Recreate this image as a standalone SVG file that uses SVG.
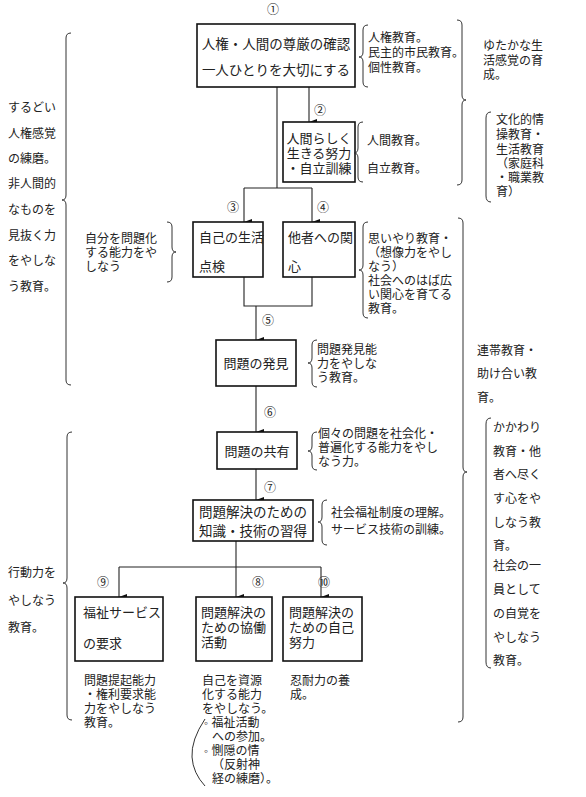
<svg xmlns="http://www.w3.org/2000/svg" width="586" height="797" viewBox="0 0 586 797">
<defs>
<marker id="ah" markerWidth="6" markerHeight="8" refX="3" refY="8" orient="auto-start-reverse" markerUnits="userSpaceOnUse" viewBox="0 0 6 8">
<path d="M0,0 L6,0 L3,8 Z" fill="#111"/>
</marker>
</defs>
<style>
text{font-family:"Liberation Sans","Noto Sans CJK JP","Noto Sans CJK SC",sans-serif;fill:#222;font-size:12px}
.box{fill:#fff;stroke:#111;stroke-width:1.6}
.bt{font-size:13px}
.bl{font-size:13.5px}
.num{font-size:12px;text-anchor:middle}
.ln{fill:none;stroke:#222;stroke-width:1.1}
.ar{fill:none;stroke:#222;stroke-width:1.1;marker-end:url(#ah)}
.br{fill:none;stroke:#333;stroke-width:1}
.mid{text-anchor:middle}
</style>
<rect width="586" height="797" fill="#fff"/>

<g id="connectors">
<path class="ln" d="M277,87 V188"/>
<path class="ar" d="M309,87 V122"/>
<path class="ln" d="M244,188 H312"/>
<path class="ar" d="M244,188 V222"/>
<path class="ar" d="M312,188 V222"/>
<path class="ln" d="M244,277 V306 H312 V277"/>
<path class="ar" d="M256,306 V340"/>
<path class="ar" d="M256,386 V432"/>
<path class="ar" d="M256,469 V500"/>
<path class="ar" d="M236,541 V597"/>
<path class="ln" d="M119,567 H321"/>
<path class="ar" d="M119,567 V597"/>
<path class="ar" d="M321,567 V597"/>
</g>

<g id="n1">
<text class="num" x="273" y="14">①</text>
<rect class="box" x="197" y="24" width="158" height="63"/>
<text class="bl mid" x="276" y="49">人権・人間の尊厳の確認<tspan x="276" dy="26">一人ひとりを大切にする</tspan></text>
</g>
<g id="n2">
<text class="num" x="320" y="115">②</text>
<rect class="box" x="283" y="122" width="72" height="60"/>
<text class="bt mid" x="319" y="143">人間らしく<tspan x="319" dy="15">生きる努力</tspan><tspan x="319" dy="15">・自立訓練</tspan></text>
</g>
<g id="n3">
<text class="num" x="233" y="212">③</text>
<rect class="box" x="193" y="222" width="70" height="55"/>
<text class="bt" x="199" y="242">自己の生活<tspan x="199" dy="29">点検</tspan></text>
</g>
<g id="n4">
<text class="num" x="323" y="212">④</text>
<rect class="box" x="283" y="222" width="72" height="55"/>
<text class="bt" x="288" y="242">他者への関<tspan x="288" dy="29">心</tspan></text>
</g>
<g id="n5">
<text class="num" x="268" y="325">⑤</text>
<rect class="box" x="216" y="340" width="80" height="46"/>
<text class="bt mid" x="256" y="368">問題の発見</text>
</g>
<g id="n6">
<text class="num" x="270" y="417">⑥</text>
<rect class="box" x="217" y="432" width="80" height="37"/>
<text class="bt mid" x="257" y="456">問題の共有</text>
</g>
<g id="n7">
<text class="num" x="270" y="492">⑦</text>
<rect class="box" x="193" y="500" width="120" height="41"/>
<text class="bl mid" x="253" y="517">問題解決のための<tspan x="253" dy="19">知識・技術の習得</tspan></text>
</g>
<g id="n9">
<text class="num" x="103" y="587">⑨</text>
<rect class="box" x="75" y="597" width="88" height="64"/>
<text class="bt" x="83" y="617">福祉サービス<tspan x="83" dy="31">の要求</tspan></text>
</g>
<g id="n8">
<text class="num" x="258" y="587">⑧</text>
<rect class="box" x="196" y="597" width="76" height="64"/>
<text class="bt" x="201" y="617">問題解決の<tspan x="201" dy="15">ための協働</tspan><tspan x="201" dy="15">活動</tspan></text>
</g>
<g id="n10">
<text class="num" x="324" y="587">⑩</text>
<rect class="box" x="283" y="597" width="79" height="64"/>
<text class="bt" x="289" y="617">問題解決の<tspan x="289" dy="15">ための自己</tspan><tspan x="289" dy="15">努力</tspan></text>
</g>

<g id="braces">
<path class="br" d="M71,33 Q66,33 66,38 L66,195 Q66,200 62,200 Q66,200 66,205 L66,380 Q66,385 71,385"/>
<path class="br" d="M72,432 Q67,432 67,437 L67,578 Q67,583 63,583 Q67,583 67,588 L67,715 Q67,720 72,720"/>
<path class="br" d="M368,25 Q363,25 363,30 L363,52 Q363,57 359,57 Q363,57 363,62 L363,82 Q363,87 368,87"/>
<path class="br" d="M457,20 Q462,20 462,25 L462,95 Q462,100 466,100 Q462,100 462,105 L462,180 Q462,185 457,185"/>
<path class="br" d="M363,122 Q358,122 358,127 L358,148 Q358,153 354,153 Q358,153 358,158 L358,177 Q358,182 363,182"/>
<path class="br" d="M491,112 Q486,112 486,118 L486,196 Q486,202 491,202"/>
<path class="br" d="M167,222 Q172,222 172,227 L172,247 Q172,252 176,252 Q172,252 172,257 L172,277 Q172,282 167,282"/>
<path class="br" d="M368,222 Q363,222 363,227 L363,265 Q363,270 359,270 Q363,270 363,275 L363,313 Q363,318 368,318"/>
<path class="br" d="M458,218 Q463,218 463,223 L463,467 Q463,472 467,472 Q463,472 463,477 L463,717 Q463,722 458,722"/>
<path class="br" d="M317,340 Q312,340 312,345 L312,358 Q312,363 308,363 Q312,363 312,368 L312,382 Q312,387 317,387"/>
<path class="br" d="M317,432 Q312,432 312,437 L312,446 Q312,451 308,451 Q312,451 312,456 L312,465 Q312,470 317,470"/>
<path class="br" d="M327,500 Q322,500 322,505 L322,517 Q322,522 318,522 Q322,522 322,527 L322,540 Q322,545 327,545"/>
<path class="br" d="M491,418 Q486,418 486,424 L486,662 Q486,668 491,668"/>
<path class="br" d="M205,719 Q191,740 192,757 Q193,773 205,786"/>
</g>

<g id="notes">
<text x="368" y="42">人権教育。<tspan x="368" dy="15">民主的市民教育。</tspan><tspan x="368" dy="15">個性教育。</tspan></text>
<text x="483" y="50">ゆたかな生<tspan x="483" dy="15">活感覚の育</tspan><tspan x="483" dy="14">成。</tspan></text>
<text x="367" y="145">人間教育。<tspan x="367" dy="28">自立教育。</tspan></text>
<text x="496" y="124">文化的情<tspan x="496" dy="15">操教育・</tspan><tspan x="496" dy="15">生活教育</tspan><tspan x="496" dy="14">（家庭科</tspan><tspan x="496" dy="14">・職業教</tspan><tspan x="496" dy="14">育）</tspan></text>
<text x="8" y="112">するどい<tspan x="8" dy="26">人権感覚</tspan><tspan x="8" dy="25">の練磨。</tspan><tspan x="8" dy="25">非人間的</tspan><tspan x="8" dy="26">なものを</tspan><tspan x="8" dy="26">見抜く力</tspan><tspan x="8" dy="25">をやしな</tspan><tspan x="8" dy="26">う教育。</tspan></text>
<text x="85" y="243">自分を問題化<tspan x="85" dy="14">する能力をや</tspan><tspan x="85" dy="14">しなう</tspan></text>
<text x="368" y="243">思いやり教育・<tspan x="368" dy="14">（想像力をやし</tspan><tspan x="368" dy="14">なう）</tspan><tspan x="368" dy="14">社会へのはば広</tspan><tspan x="368" dy="14">い関心を育てる</tspan><tspan x="368" dy="14">教育。</tspan></text>
<text x="317" y="354">問題発見能<tspan x="317" dy="14">力をやしな</tspan><tspan x="317" dy="14">う教育。</tspan></text>
<text x="477" y="355">連帯教育・<tspan x="477" dy="23">助け合い教</tspan><tspan x="477" dy="24">育。</tspan></text>
<text x="318" y="438">個々の問題を社会化・<tspan x="318" dy="14">普遍化する能力をやし</tspan><tspan x="318" dy="14">なう力。</tspan></text>
<text x="331" y="517">社会福祉制度の理解。<tspan x="331" dy="17">サービス技術の訓練。</tspan></text>
<text x="493" y="432">かかわり<tspan x="493" dy="24">教育・他</tspan><tspan x="493" dy="23">者へ尽く</tspan><tspan x="493" dy="24">す心をや</tspan><tspan x="493" dy="24">しなう教</tspan><tspan x="493" dy="23">育。</tspan><tspan x="493" dy="20">社会の一</tspan><tspan x="493" dy="24">員として</tspan><tspan x="493" dy="24">の自覚を</tspan><tspan x="493" dy="24">やしなう</tspan><tspan x="493" dy="23">教育。</tspan></text>
<text x="8" y="577">行動力を<tspan x="8" dy="28">やしなう</tspan><tspan x="8" dy="27">教育。</tspan></text>
<text x="84" y="685">問題提起能力<tspan x="84" dy="14">・権利要求能</tspan><tspan x="84" dy="14">力をやしなう</tspan><tspan x="84" dy="14">教育。</tspan></text>
<text x="202" y="685">自己を資源<tspan x="202" dy="14">化する能力</tspan><tspan x="202" dy="14">をやしなう。</tspan><tspan x="204" dy="14">◦ 福祉活動</tspan><tspan x="212" dy="14">への参加。</tspan><tspan x="204" dy="14">◦ 惻隠の情</tspan><tspan x="212" dy="14">（反射神</tspan><tspan x="212" dy="14">経の練磨）。</tspan></text>
<text x="290" y="685">忍耐力の養<tspan x="290" dy="14">成。</tspan></text>
</g>
</svg>
